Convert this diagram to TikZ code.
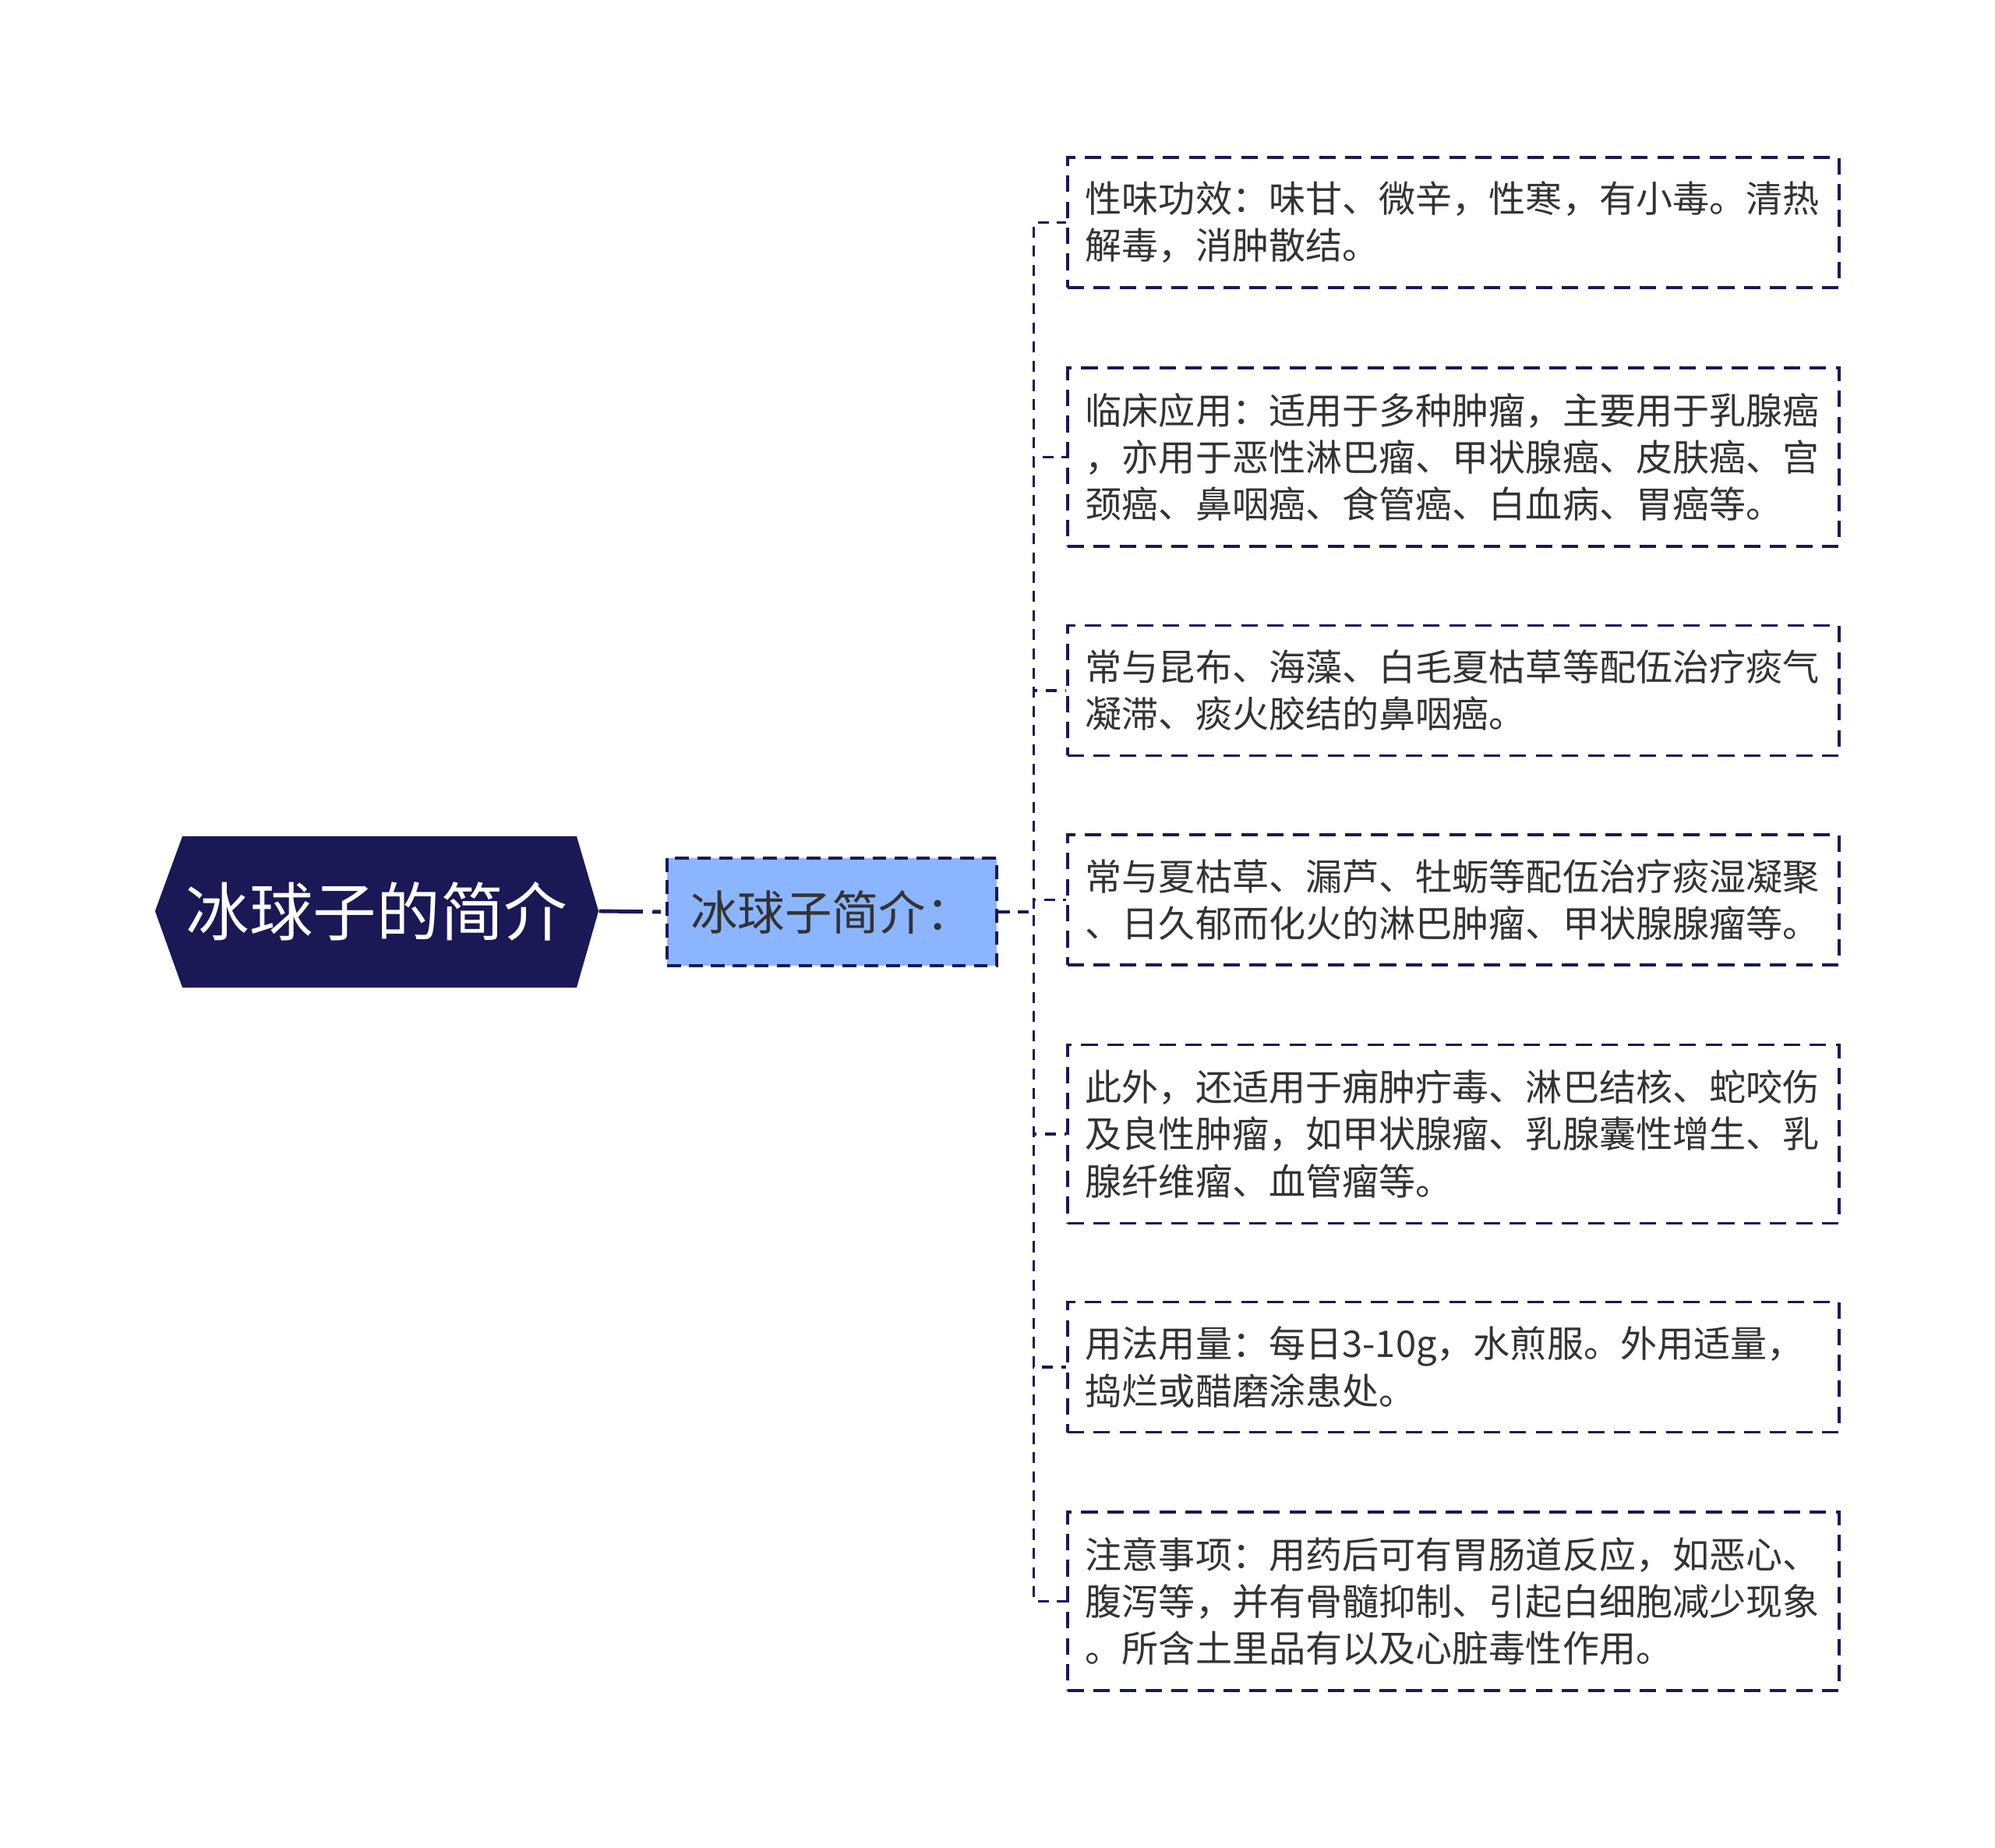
\documentclass[tikz,border=0pt]{standalone}
\usepackage{fontspec}
\setmainfont{Noto Sans CJK SC}
\usetikzlibrary{positioning}
\definecolor{navy}{HTML}{1B1856}
\definecolor{paleblue}{HTML}{8CB5FF}
\definecolor{inkgray}{HTML}{333333}
\tikzset{
  rootbox/.style={inner sep=0pt, minimum width=5.69cm, minimum height=1.94cm, text=white, font=\fontsize{23.2pt}{24pt}\selectfont},
  introbox/.style={draw=navy, fill=paleblue, line width=1.4pt, dash pattern=on 5pt off 3pt, text=inkgray, inner sep=0pt, minimum width=4.23cm, minimum height=1.38cm, font=\fontsize{17.2pt}{19pt}\selectfont},
  leafbox/.style={draw=navy, line width=1pt, dash pattern=on 6pt off 3.5pt, text=inkgray, text width=9.44cm, inner xsep=0.23cm, inner ysep=0pt, align=left, anchor=west, minimum height=#1, font=\fontsize{13.4pt}{17.1pt}\selectfont},
  link/.style={draw=navy, line width=1pt, dash pattern=on 4pt off 3pt},
}
\begin{document}
\begin{tikzpicture}
\useasboundingbox (0,0) rectangle (25.6,-23.71);

% root
\fill[navy] (1.99,-11.69) -- (2.34,-10.73) -- (7.40,-10.73) -- (7.68,-11.69) -- (7.40,-12.67) -- (2.34,-12.67) -- cycle;
\node[rootbox] (root) at (4.835,-11.69) {冰球子的简介};

% intro
\node[introbox] (intro) at (10.675,-11.70) {冰球子简介：};
\draw[navy, line width=1.4pt, dash pattern=on 16pt off 3.5pt on 3pt off 3pt] (root.east) -- (intro.west);

% leaves
\node[leafbox=1.67cm] (leaf1) at (13.68,-2.855) {性味功效：味甘、微辛，性寒，有小毒。清热\\解毒，消肿散结。};
\node[leafbox=2.29cm] (leaf2) at (13.68,-5.865) {临床应用：适用于多种肿瘤，主要用于乳腺癌\\，亦用于恶性淋巴瘤、甲状腺癌、皮肤癌、宫\\颈癌、鼻咽癌、食管癌、白血病、胃癌等。};
\node[leafbox=1.67cm] (leaf3) at (13.68,-8.86) {常与昆布、海藻、白毛夏枯草等配伍治疗痰气\\凝滞、痰火胶结的鼻咽癌。};
\node[leafbox=1.67cm] (leaf4) at (13.68,-11.545) {常与夏枯草、漏芦、牡蛎等配伍治疗痰湿凝聚\\、日久郁而化火的淋巴肿瘤、甲状腺腺瘤等。};
\node[leafbox=2.29cm] (leaf5) at (13.68,-14.55) {此外，还适用于痈肿疔毒、淋巴结核、蛇咬伤\\及良性肿瘤，如甲状腺瘤、乳腺囊性增生、乳\\腺纤维瘤、血管瘤等。};
\node[leafbox=1.67cm] (leaf6) at (13.68,-17.54) {用法用量：每日3-10g，水煎服。外用适量，\\捣烂或醋磨涂患处。};
\node[leafbox=2.29cm] (leaf7) at (13.68,-20.545) {注意事项：用药后可有胃肠道反应，如恶心、\\腹泻等，并有骨髓抑制、引起白细胞减少现象\\。所含土里品有以及心脏毒性作用。};

\foreach \i in {1,...,7}
  \draw[link] (intro.east) -- ++(0.45,0) |- (leaf\i.west);
\end{tikzpicture}
\end{document}
